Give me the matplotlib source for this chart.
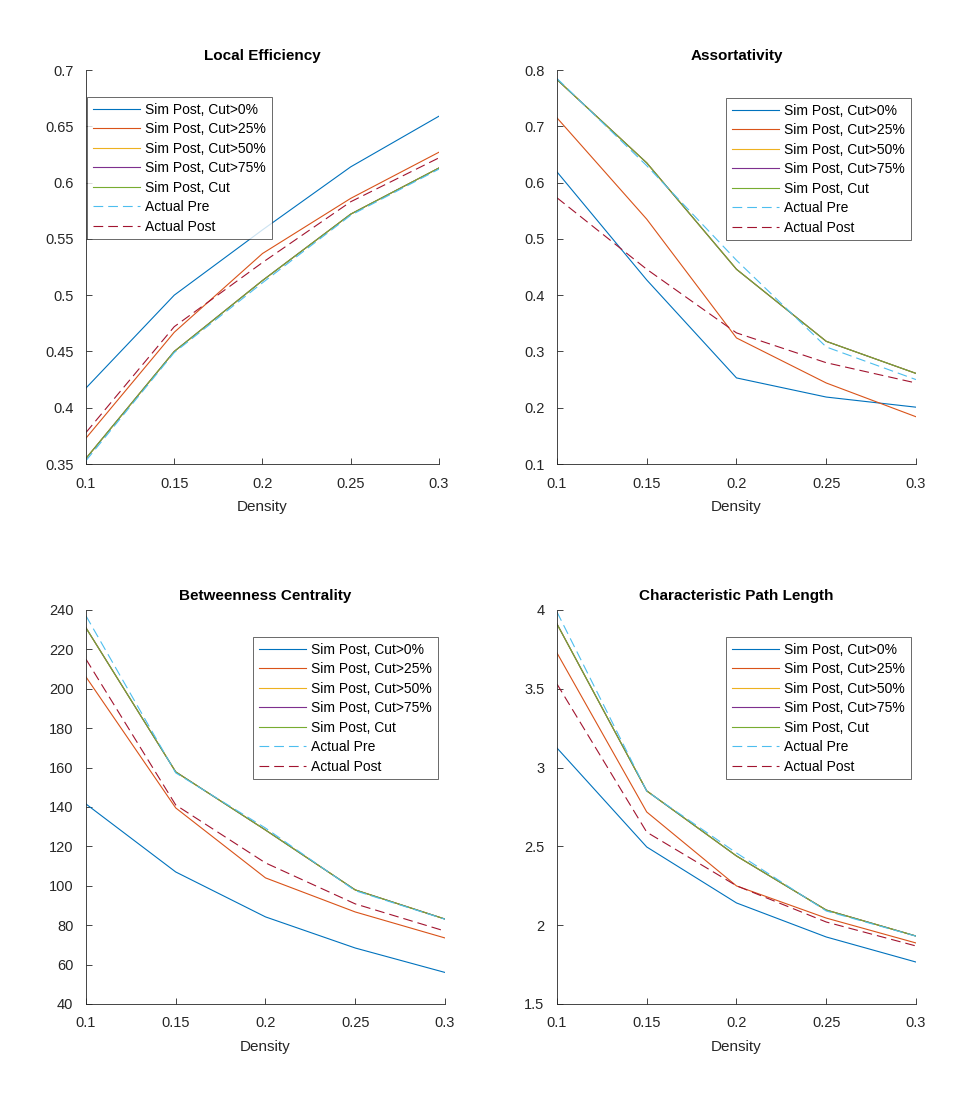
import matplotlib
matplotlib.use("Agg")
import matplotlib.pyplot as plt
from matplotlib.ticker import FormatStrFormatter

plt.rcParams['font.family'] = ['Liberation Sans', 'DejaVu Sans']
plt.rcParams['lines.scale_dashes'] = False

density = [0.1, 0.15, 0.2, 0.25, 0.3]
series_names = ["Sim Post, Cut>0%", "Sim Post, Cut>25%", "Sim Post, Cut>50%",
                "Sim Post, Cut>75%", "Sim Post, Cut", "Actual Pre", "Actual Post"]
colors = ["#0072BD", "#D95319", "#EDB120", "#7E2F8E", "#77AC30", "#4DBEEE", "#A2142F"]

# Local Efficiency
le_cut0 = [0.4175, 0.500, 0.558, 0.614, 0.659]
le_cut25 = [0.373, 0.467, 0.537, 0.586, 0.627]
le_cut50 = [0.355, 0.450, 0.513, 0.572, 0.613]
le_cut75 = [0.355, 0.450, 0.513, 0.572, 0.613]
le_cut = [0.355, 0.450, 0.513, 0.572, 0.613]
le_pre = [0.353, 0.449, 0.511, 0.571, 0.612]
le_post = [0.378, 0.472, 0.529, 0.583, 0.622]

# Assortativity
as_cut0 = [0.619, 0.427, 0.253, 0.219, 0.201]
as_cut25 = [0.715, 0.535, 0.324, 0.244, 0.184]
as_cut50 = [0.783, 0.635, 0.446, 0.318, 0.261]
as_cut75 = [0.783, 0.635, 0.446, 0.318, 0.261]
as_cut = [0.783, 0.635, 0.446, 0.318, 0.261]
as_pre = [0.785, 0.630, 0.462, 0.308, 0.250]
as_post = [0.573, 0.446, 0.333, 0.280, 0.244]

# Betweenness Centrality
bc_cut0 = [141.5, 107.0, 84.2, 68.4, 56.0]
bc_cut25 = [206.0, 139.5, 104.0, 86.7, 73.5]
bc_cut50 = [230.9, 157.8, 128.3, 97.9, 83.1]
bc_cut75 = [230.9, 157.8, 128.3, 97.9, 83.1]
bc_cut = [230.9, 157.8, 128.3, 97.9, 83.1]
bc_pre = [237.0, 157.3, 129.3, 97.5, 83.0]
bc_post = [215.0, 141.0, 111.6, 90.8, 77.0]

# Characteristic Path Length
cp_cut0 = [3.124, 2.496, 2.141, 1.925, 1.766]
cp_cut25 = [3.727, 2.718, 2.249, 2.045, 1.887]
cp_cut50 = [3.911, 2.852, 2.439, 2.096, 1.931]
cp_cut75 = [3.911, 2.852, 2.439, 2.096, 1.931]
cp_cut = [3.911, 2.852, 2.439, 2.096, 1.931]
cp_pre = [3.987, 2.850, 2.458, 2.090, 1.930]
cp_post = [3.530, 2.590, 2.250, 2.020, 1.868]

panels = [
    dict(title="Local Efficiency", data=[le_cut0, le_cut25, le_cut50, le_cut75, le_cut, le_pre, le_post],
         ylim=(0.35, 0.7), yticks=[0.35, 0.4, 0.45, 0.5, 0.55, 0.6, 0.65, 0.7],
         pos=[0.0891, 0.5812, 0.3658, 0.3556], leg=(87, 97)),
    dict(title="Assortativity", data=[as_cut0, as_cut25, as_cut50, as_cut75, as_cut, as_pre, as_post],
         ylim=(0.1, 0.8), yticks=[0.1, 0.2, 0.3, 0.4, 0.5, 0.6, 0.7, 0.8],
         pos=[0.5772, 0.5812, 0.3720, 0.3556], leg=(726, 98)),
    dict(title="Betweenness Centrality", data=[bc_cut0, bc_cut25, bc_cut50, bc_cut75, bc_cut, bc_pre, bc_post],
         ylim=(40, 240), yticks=[40, 60, 80, 100, 120, 140, 160, 180, 200, 220, 240],
         pos=[0.0891, 0.0939, 0.3720, 0.3556], leg=(253, 637)),
    dict(title="Characteristic Path Length", data=[cp_cut0, cp_cut25, cp_cut50, cp_cut75, cp_cut, cp_pre, cp_post],
         ylim=(1.5, 4), yticks=[1.5, 2, 2.5, 3, 3.5, 4],
         pos=[0.5772, 0.0939, 0.3720, 0.3556], leg=(726, 637)),
]

W, H = 965, 1108
fig = plt.figure(figsize=(W / 100, H / 100), dpi=100)
axcol = "#262626"

for p in panels:
    ax = fig.add_axes(p["pos"])
    for i, (vals, name, c) in enumerate(zip(p["data"], series_names, colors)):
        if i >= 5:
            ax.plot(density, vals, color=c, lw=0.8, linestyle=(0, (7, 3.6)), label=name)
        else:
            ax.plot(density, vals, color=c, lw=0.8, label=name)
    ax.set_xlim(0.1, 0.3)
    ax.set_ylim(*p["ylim"])
    ax.set_xticks([0.1, 0.15, 0.2, 0.25, 0.3])
    ax.set_yticks(p["yticks"])
    ax.xaxis.set_major_formatter(FormatStrFormatter('%g'))
    ax.yaxis.set_major_formatter(FormatStrFormatter('%g'))
    ax.spines['top'].set_visible(False)
    ax.spines['right'].set_visible(False)
    for s in ('left', 'bottom'):
        ax.spines[s].set_color(axcol)
        ax.spines[s].set_linewidth(0.6)
    ax.tick_params(direction='in', length=4, width=0.6, colors=axcol, labelsize=10.5)
    ax.tick_params(axis='x', pad=9)
    ax.tick_params(axis='y', pad=9)
    ax.set_title(p["title"], fontsize=11, fontweight='bold', color='black', pad=7)
    ax.set_xlabel("Density", fontsize=11, color=axcol, labelpad=7)
    lx, ly = p["leg"]
    leg = ax.legend(loc='upper left', bbox_to_anchor=(lx / W, 1 - ly / H),
                    bbox_transform=fig.transFigure, fontsize=10, frameon=True,
                    fancybox=False, shadow=False, handlelength=3.45, handletextpad=0.35,
                    labelspacing=0.4, borderpad=0.4, borderaxespad=0)
    leg.get_frame().set_edgecolor(axcol)
    leg.get_frame().set_linewidth(0.6)

fig.savefig("out.png", dpi=100, facecolor='white')
